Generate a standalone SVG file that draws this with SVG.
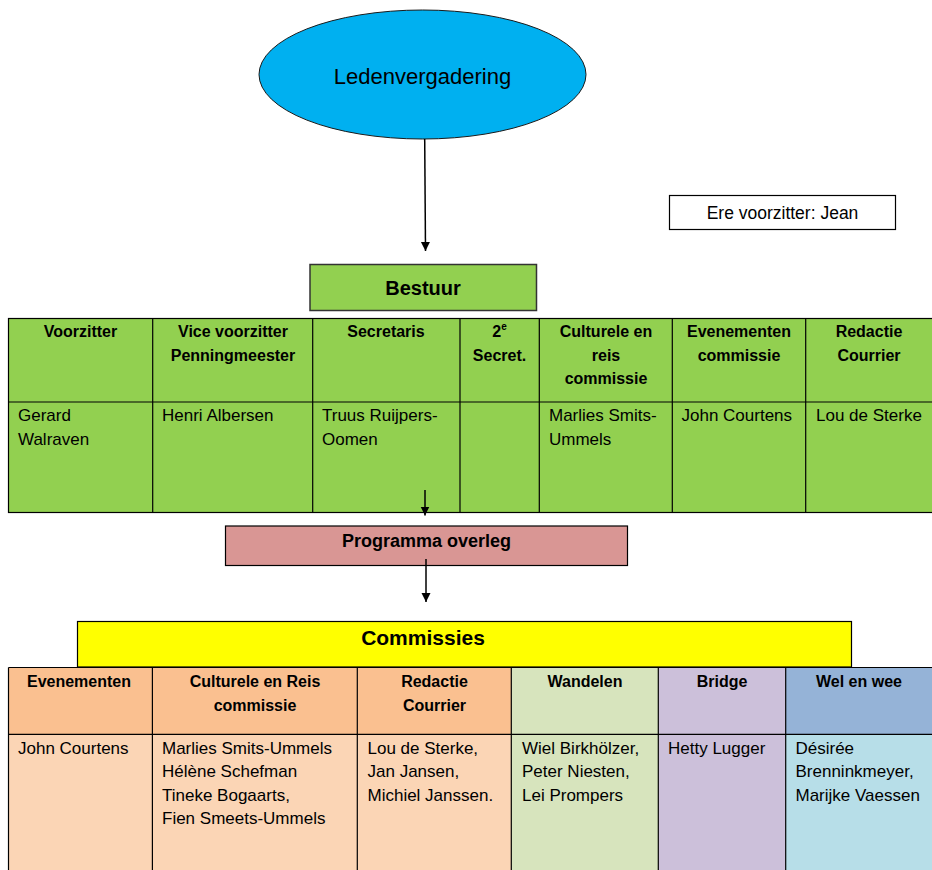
<svg xmlns="http://www.w3.org/2000/svg" width="932" height="870" viewBox="0 0 932 870">
<defs>
<marker id="ah" markerWidth="10" markerHeight="10" refX="9" refY="5" orient="auto" markerUnits="userSpaceOnUse">
<path d="M0,0.5 L9,5 L0,9.5 Z" fill="#000"/>
</marker>
<style>
text{font-family:"Liberation Sans",Arial,sans-serif;fill:#000}
.h{font-weight:bold;font-size:16px;text-anchor:middle}
.b{font-size:17px}
.cell{stroke:#000;stroke-width:1.2}
.conn{stroke:#000;stroke-width:1.5;fill:none;marker-end:url(#ah)}
</style>
</defs>
<rect width="932" height="870" fill="#fff"/>

<g id="ledenvergadering">
<ellipse cx="422.5" cy="74.5" rx="163.5" ry="64.5" fill="#00B0F0" stroke="#1a1a1a" stroke-width="1"/>
<text x="422.5" y="84" font-size="22" text-anchor="middle">Ledenvergadering</text>
</g>

<g id="erevoorzitter">
<rect x="669.5" y="195.5" width="226" height="34" fill="#fff" stroke="#000" stroke-width="1.2"/>
<text x="782.5" y="219" font-size="17.5" text-anchor="middle">Ere voorzitter: Jean</text>
</g>

<g id="bestuur">
<rect x="310" y="264.5" width="226.5" height="46" fill="#92D050" stroke="#333" stroke-width="1.5"/>
<text x="423" y="295" font-size="20" font-weight="bold" text-anchor="middle">Bestuur</text>
</g>

<g id="bestuur-tabel">
<rect x="8.5" y="318.5" width="930" height="194" fill="#92D050" class="cell"/>
<line x1="8.5" y1="402" x2="932" y2="402" class="cell"/>
<line x1="152.7" y1="318.5" x2="152.7" y2="512.5" class="cell"/>
<line x1="312.7" y1="318.5" x2="312.7" y2="512.5" class="cell"/>
<line x1="460" y1="318.5" x2="460" y2="512.5" class="cell"/>
<line x1="539.3" y1="318.5" x2="539.3" y2="512.5" class="cell"/>
<line x1="672.3" y1="318.5" x2="672.3" y2="512.5" class="cell"/>
<line x1="805.7" y1="318.5" x2="805.7" y2="512.5" class="cell"/>
<text class="h" x="80.5" y="337">Voorzitter</text>
<text class="h" x="233" y="337">Vice voorzitter</text>
<text class="h" x="233" y="360.5">Penningmeester</text>
<text class="h" x="386" y="337">Secretaris</text>
<text class="h" x="499.5" y="337">2<tspan font-size="10" dy="-7">e</tspan></text>
<text class="h" x="499.5" y="360.5">Secret.</text>
<text class="h" x="606" y="337">Culturele en</text>
<text class="h" x="606" y="360.5">reis</text>
<text class="h" x="606" y="384">commissie</text>
<text class="h" x="739" y="337">Evenementen</text>
<text class="h" x="739" y="360.5">commissie</text>
<text class="h" x="869" y="337">Redactie</text>
<text class="h" x="869" y="360.5">Courrier</text>
<text class="b" x="18" y="421">Gerard</text>
<text class="b" x="18" y="445">Walraven</text>
<text class="b" x="162" y="421">Henri Albersen</text>
<text class="b" x="322" y="421">Truus Ruijpers-</text>
<text class="b" x="322" y="445">Oomen</text>
<text class="b" x="549" y="421">Marlies Smits-</text>
<text class="b" x="549" y="445">Ummels</text>
<text class="b" x="681.5" y="421">John Courtens</text>
<text class="b" x="816" y="421">Lou de Sterke</text>
</g>

<g id="programma-overleg">
<rect x="225.5" y="526" width="402" height="39.5" fill="#D99694" stroke="#000" stroke-width="1.2"/>
<text x="426.5" y="547" font-size="18" font-weight="bold" text-anchor="middle">Programma overleg</text>
</g>

<g id="commissies">
<rect x="77.5" y="621.5" width="774" height="45.5" fill="#FFFF00" stroke="#000" stroke-width="1.2"/>
<text x="423" y="645" font-size="21" font-weight="bold" text-anchor="middle">Commissies</text>
</g>

<g id="commissies-tabel">
<rect x="8.5" y="667.5" width="144" height="67" fill="#FAC090"/>
<rect x="152.5" y="667.5" width="205" height="67" fill="#FAC090"/>
<rect x="357.5" y="667.5" width="154" height="67" fill="#FAC090"/>
<rect x="511.5" y="667.5" width="147" height="67" fill="#D7E4BD"/>
<rect x="658.5" y="667.5" width="127" height="67" fill="#CCC0DA"/>
<rect x="785.5" y="667.5" width="150" height="67" fill="#95B3D7"/>
<rect x="8.5" y="734.5" width="144" height="140" fill="#FBD5B5"/>
<rect x="152.5" y="734.5" width="205" height="140" fill="#FBD5B5"/>
<rect x="357.5" y="734.5" width="154" height="140" fill="#FBD5B5"/>
<rect x="511.5" y="734.5" width="147" height="140" fill="#D7E4BD"/>
<rect x="658.5" y="734.5" width="127" height="140" fill="#CCC0DA"/>
<rect x="785.5" y="734.5" width="150" height="140" fill="#B7DEE8"/>
<line x1="8.5" y1="667.5" x2="932" y2="667.5" class="cell"/>
<line x1="8.5" y1="734.3" x2="932" y2="734.3" class="cell"/>
<line x1="8.5" y1="667.5" x2="8.5" y2="870" class="cell"/>
<line x1="152.4" y1="667.5" x2="152.4" y2="870" class="cell"/>
<line x1="357.3" y1="667.5" x2="357.3" y2="870" class="cell"/>
<line x1="511.3" y1="667.5" x2="511.3" y2="870" class="cell"/>
<line x1="658.3" y1="667.5" x2="658.3" y2="870" class="cell"/>
<line x1="785.7" y1="667.5" x2="785.7" y2="870" class="cell"/>
<text class="h" x="79" y="687">Evenementen</text>
<text class="h" x="255" y="687">Culturele en Reis</text>
<text class="h" x="255" y="710.5">commissie</text>
<text class="h" x="434.5" y="687">Redactie</text>
<text class="h" x="434.5" y="710.5">Courrier</text>
<text class="h" x="585" y="687">Wandelen</text>
<text class="h" x="722" y="687">Bridge</text>
<text class="h" x="859" y="687">Wel en wee</text>
<text class="b" x="18" y="753.5">John Courtens</text>
<text class="b" x="162" y="753.5">Marlies Smits-Ummels</text>
<text class="b" x="162" y="777">Hélène Schefman</text>
<text class="b" x="162" y="800.5">Tineke Bogaarts,</text>
<text class="b" x="162" y="824">Fien Smeets-Ummels</text>
<text class="b" x="367.5" y="753.5">Lou de Sterke,</text>
<text class="b" x="367.5" y="777">Jan Jansen,</text>
<text class="b" x="367.5" y="800.5">Michiel Janssen.</text>
<text class="b" x="522" y="753.5">Wiel Birkhölzer,</text>
<text class="b" x="522" y="777">Peter Niesten,</text>
<text class="b" x="522" y="800.5">Lei Prompers</text>
<text class="b" x="668" y="753.5">Hetty Lugger</text>
<text class="b" x="795.5" y="753.5">Désirée</text>
<text class="b" x="795.5" y="777">Brenninkmeyer,</text>
<text class="b" x="795.5" y="800.5">Marijke Vaessen</text>
</g>

<g id="connectors">
<line x1="424.7" y1="139" x2="425.5" y2="251" class="conn"/>
<line x1="425" y1="490" x2="425" y2="515.5" class="conn"/>
<line x1="426" y1="559" x2="426" y2="602" class="conn"/>
</g>
</svg>
